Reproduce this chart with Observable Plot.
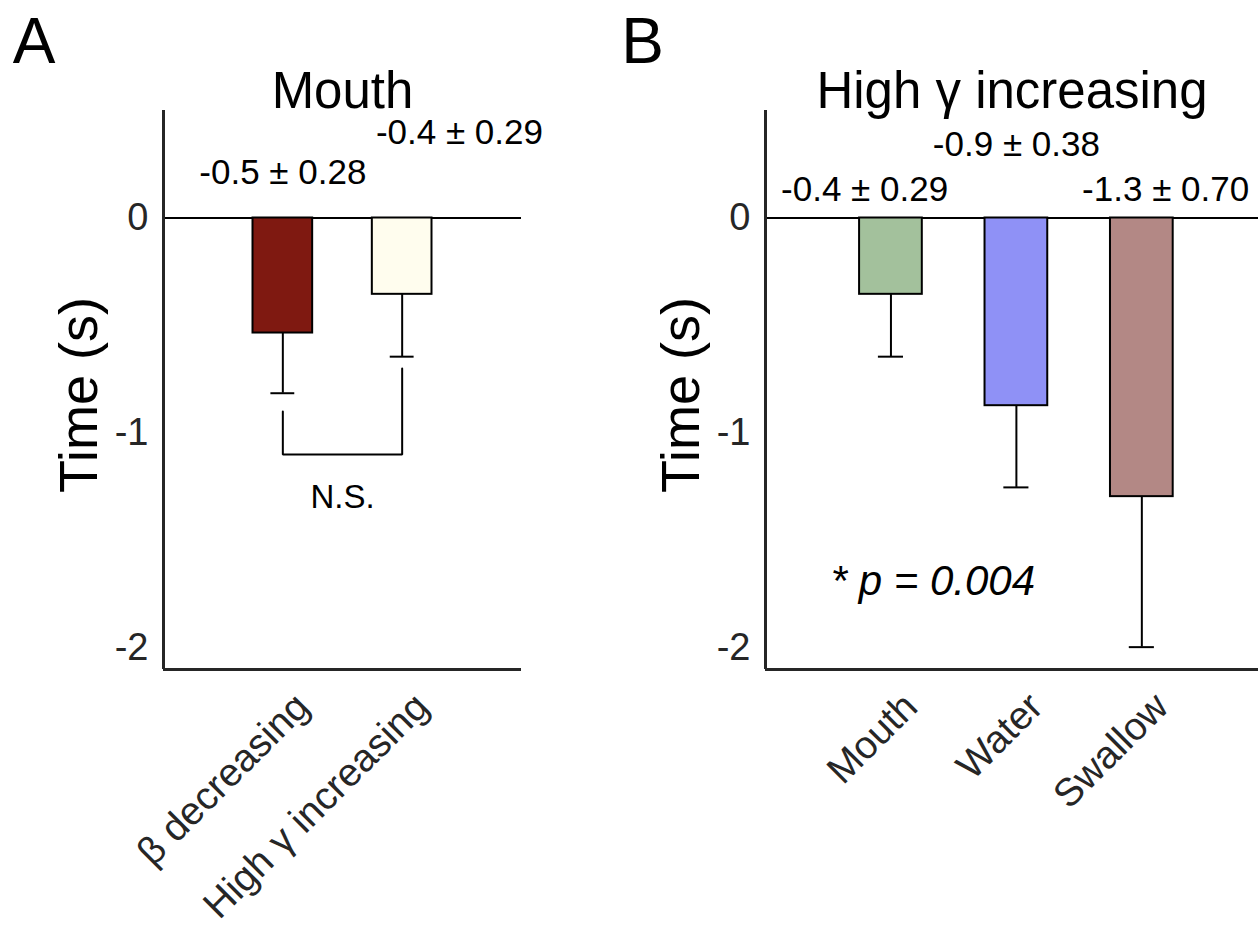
<!DOCTYPE html>
<html><head><meta charset="utf-8">
<script src="https://cdn.jsdelivr.net/npm/d3@7"></script>
<script src="https://cdn.jsdelivr.net/npm/@observablehq/plot@0.6"></script>
<style>
body{margin:0;background:#fff;}
#wrap{position:relative;width:1258px;height:935px;display:flex;overflow:hidden;}
#wrap svg{display:block;max-width:none;flex:none;}
</style></head><body><div id="wrap"></div>
<script>
const FONT = "'Liberation Sans', Arial, Helvetica, sans-serif";
const AXIS = "#262626";

// ---- Panel A data ----
const catsA = ["β decreasing", "High γ increasing"];
const valuesA = [-0.535, -0.355];
const errorsA = [0.28, 0.29];
const colorsA = ["#7f1911", "#fffdee"];
const labelsA = ["-0.5 ± 0.28", "-0.4 ± 0.29"];
const labelXA = [1.0, 2.48];
const labelYA = [0.21, 0.395];
const bracketA = [{x: 1, y: -0.9}, {x: 1, y: -1.1}, {x: 2, y: -1.1}, {x: 2, y: -0.7}];
const nsA = [{x: 1.5, y: -1.3, text: "N.S."}];

// ---- Panel B data ----
const catsB = ["Mouth", "Water", "Swallow"];
const valuesB = [-0.355, -0.873, -1.296];
const errorsB = [0.29, 0.38, 0.70];
const colorsB = ["#a3c19c", "#8f91f6", "#b38885"];
const labelsB = ["-0.4 ± 0.29", "-0.9 ± 0.38", "-1.3 ± 0.70"];
const labelXB = [0.79, 2.0, 3.19];
const labelYB = [0.13, 0.34, 0.13];
const pNoteB = [{x: 0.52, y: -1.69, text: "* p = 0.004"}];

const yTicks = [0, -1, -2];
const yDomain = [-2.1, 0.5];
const yLabel = "Time (s)";

function panel(o) {
  const rows = o.cats.map((c, i) => ({
    cat: c, pos: i + 1, value: o.values[i], err: o.errors[i], color: o.colors[i],
    label: o.labels[i], lx: o.labelX[i], ly: o.labelY[i]
  }));
  return Plot.plot({
    width: o.width, height: 935,
    marginLeft: o.marginLeft, marginRight: o.marginRight, marginTop: 110, marginBottom: 266,
    style: {fontFamily: FONT, background: "white", color: "black", overflow: "visible"},
    x: {domain: o.xDomain},
    y: {domain: yDomain},
    color: {type: "identity"},
    marks: [
      Plot.ruleY([0], {stroke: "black", strokeWidth: 2}),
      Plot.ruleX(rows, {x: "pos", y1: "value", y2: d => d.value - d.err, stroke: "black", strokeWidth: 2}),
      Plot.ruleY(rows, {y: d => d.value - d.err, x1: d => d.pos - 0.1, x2: d => d.pos + 0.1, stroke: "black", strokeWidth: 2}),
      Plot.rectY(rows, {x1: d => d.pos - 0.25, x2: d => d.pos + 0.25, y1: 0, y2: "value", fill: "color", stroke: "black", strokeWidth: 2}),
      Plot.ruleX([o.xDomain[0]], {stroke: AXIS, strokeWidth: 3}),
      Plot.ruleY([yDomain[0]], {stroke: AXIS, strokeWidth: 3}),
      Plot.axisY({ticks: yTicks, tickFormat: d => String(d), tickSize: 0, tickPadding: 15, fontSize: 38, label: null, fill: AXIS}),
      Plot.axisX({ticks: rows.map(d => d.pos), tickFormat: p => o.cats[p - 1], tickRotate: -45, tickSize: 0, tickPadding: 0,
        textAnchor: "end", lineAnchor: "top", dx: 9, dy: 20, fontSize: 39, label: null, fill: AXIS}),
      Plot.text(rows, {x: "lx", y: "ly", text: "label", fontSize: 35, fill: "black"}),
      Plot.text([o.title], {text: d => d, frameAnchor: "top", lineAnchor: "middle", dy: -19, fontSize: 51, fill: "black"}),
      Plot.text([o.letter], {text: d => d, frameAnchor: "top-left", lineAnchor: "middle", textAnchor: "middle", dx: o.letterDx, dy: -68, fontSize: 64, fill: "black"}),
      Plot.text([yLabel], {text: d => d, frameAnchor: "left", rotate: -90, textAnchor: "middle", lineAnchor: "middle", dx: -84, dy: 5, fontSize: 54, fill: "black"}),
      ...o.extras
    ]
  });
}

const wrap = document.getElementById("wrap");
wrap.appendChild(panel({
  letter: "A", letterDx: -129.5, title: "Mouth",
  cats: catsA, values: valuesA, errors: errorsA, colors: colorsA,
  labels: labelsA, labelX: labelXA, labelY: labelYA,
  xDomain: [0, 3], width: 600, marginLeft: 163, marginRight: 79,
  extras: [
    Plot.line(bracketA, {x: "x", y: "y", stroke: "black", strokeWidth: 2, strokeLinejoin: "miter"}),
    Plot.text(nsA, {x: "x", y: "y", text: "text", fontSize: 33, fill: "black"})
  ]
}));
wrap.appendChild(panel({
  letter: "B", letterDx: -123, title: "High γ increasing",
  cats: catsB, values: valuesB, errors: errorsB, colors: colorsB,
  labels: labelsB, labelX: labelXB, labelY: labelYB,
  xDomain: [0, 3.93], width: 658, marginLeft: 165, marginRight: 0,
  extras: [
    Plot.text(pNoteB, {x: "x", y: "y", text: "text", fontSize: 42, fontStyle: "italic", textAnchor: "start", fill: "black"})
  ]
}));
</script></body></html>
